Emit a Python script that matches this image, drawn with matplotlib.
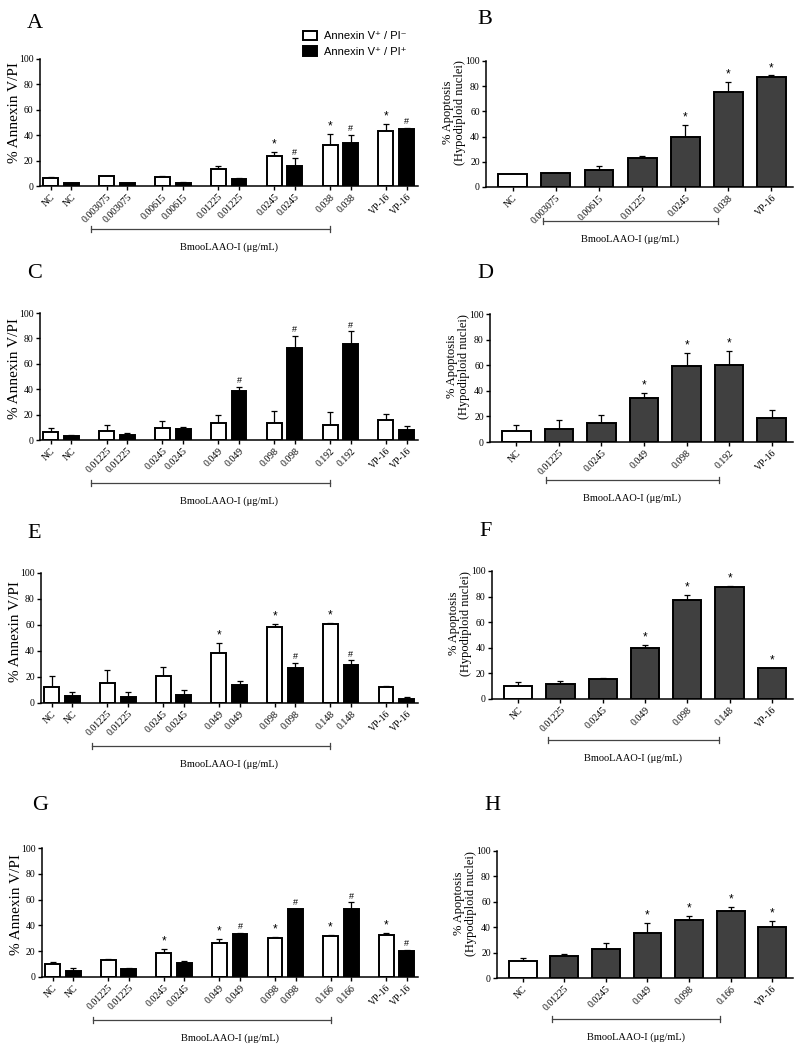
import numpy as np
import matplotlib
matplotlib.use("Agg")
import matplotlib.pyplot as plt
import matplotlib.transforms as mtransforms
from matplotlib.patches import Patch

SERIF = "Liberation Serif"
SANS = ["Liberation Sans", "DejaVu Sans"]

# ---------------- data ----------------
# Panel A
A_groups = ["NC", "0.003075", "0.00615", "0.01225", "0.0245", "0.038", "VP-16"]
A_white = [6, 7.5, 7, 13, 23.5, 32, 43.5]
A_white_err = [0.8, 0.5, 0.8, 3, 3, 9, 5]
A_black = [2, 2, 2.5, 5.5, 16, 34, 45]
A_black_err = [0.3, 0.3, 0.3, 0.8, 6, 6.5, 1]
A_white_sig = ["", "", "", "", "*", "*", "*"]
A_black_sig = ["", "", "", "", "#", "#", "#"]

# Panel B
B_groups = ["NC", "0.003075", "0.00615", "0.01225", "0.0245", "0.038", "VP-16"]
B_vals = [10.5, 11.5, 13.5, 23, 40, 75.5, 87.5]
B_err = [0, 0, 3, 2, 9.5, 8, 1]
B_sig = ["", "", "", "", "*", "*", "*"]

# Panel C
C_groups = ["NC", "0.01225", "0.0245", "0.049", "0.098", "0.192", "VP-16"]
C_white = [6, 7, 9.7, 13, 13, 12, 15.5]
C_white_err = [3.7, 4.5, 5.5, 7, 9.5, 10, 5]
C_black = [3.4, 4, 9, 38.5, 72.5, 75.5, 8]
C_black_err = [0.3, 1.5, 1.5, 3.5, 9.7, 10.3, 3]
C_white_sig = ["", "", "", "", "", "", ""]
C_black_sig = ["", "", "", "#", "#", "#", ""]

# Panel D
D_groups = ["NC", "0.01225", "0.0245", "0.049", "0.098", "0.192", "VP-16"]
D_vals = [8.5, 10.5, 15, 34.5, 59, 60, 18.5]
D_err = [5, 6.3, 6.2, 3.7, 10.5, 11, 6.3]
D_sig = ["", "", "", "*", "*", "*", ""]

# Panel E
E_groups = ["NC", "0.01225", "0.0245", "0.049", "0.098", "0.148", "VP-16"]
E_white = [12, 15.5, 20.5, 38.5, 58.5, 61, 12]
E_white_err = [8.5, 10, 7.5, 7.5, 2.5, 0.5, 1]
E_black = [5.5, 5, 6.5, 14, 27, 29, 3]
E_black_err = [2.7, 3.5, 3.5, 3, 4, 4, 1.6]
E_white_sig = ["", "", "", "*", "*", "*", ""]
E_black_sig = ["", "", "", "", "#", "#", ""]

# Panel F
F_groups = ["NC", "0.01225", "0.0245", "0.049", "0.098", "0.148", "VP-16"]
F_vals = [10.5, 11.5, 16, 39.5, 77.5, 87.5, 24]
F_err = [2.5, 2.3, 0.7, 2.5, 3.5, 0.5, 0.5]
F_sig = ["", "", "", "*", "*", "*", "*"]

# Panel G
G_groups = ["NC", "0.01225", "0.0245", "0.049", "0.098", "0.166", "VP-16"]
G_white = [10, 13, 18.5, 26, 30.5, 31.5, 32.5]
G_white_err = [2, 1.3, 3, 3.3, 0.8, 1.2, 1.8]
G_black = [4.8, 6, 11, 33, 52.5, 52.5, 20.5]
G_black_err = [2, 0.6, 1.1, 1.3, 0.6, 5.5, 0.5]
G_white_sig = ["", "", "*", "*", "*", "*", "*"]
G_black_sig = ["", "", "", "#", "#", "#", "#"]

# Panel H
H_groups = ["NC", "0.01225", "0.0245", "0.049", "0.098", "0.166", "VP-16"]
H_vals = [13, 17, 22.5, 35.5, 45.5, 52.5, 40.5]
H_err = [2.7, 1.8, 5.3, 8, 3, 3.5, 4.5]
H_sig = ["", "", "", "*", "*", "*", "*"]

legend_labels = ["Annexin V\u207a / PI\u207b", "Annexin V\u207a / PI\u207a"]
xlabel_text = "BmooLAAO-I (\u03bcg/mL)"
ylabel_left = "% Annexin V/PI"
ylabel_right = "% Apoptosis\n(Hypodiploid nuclei)"
yticks = [0, 20, 40, 60, 80, 100]

# ---------------- figure ----------------
W, H = 800, 1050
fig = plt.figure(figsize=(W / 100, H / 100), dpi=100)


def add_axes(l, r, t, b):
    return fig.add_axes([l / W, 1 - b / H, (r - l) / W, (b - t) / H])


def style(ax, h_px):
    for s in ["top", "right"]:
        ax.spines[s].set_visible(False)
    for s in ["left", "bottom"]:
        ax.spines[s].set_linewidth(1.1)
    ax.set_ylim(0, 100)
    ax.set_yticks(yticks)
    ax.tick_params(axis="both", direction="out", length=3, width=1, pad=1.5)
    for lab in ax.get_yticklabels():
        lab.set_fontfamily(SERIF)
        lab.set_fontsize(7)


def add_sig(ax, xs, vals, errs, marks):
    for x, v, e, m in zip(xs, vals, errs, marks):
        if m:
            fs = 8.5 if m == "*" else 6.5
            ax.text(x, v + e + 1.2, m, ha="center", va="bottom", fontsize=fs,
                    family=SANS, clip_on=False)


def bracket(ax, x1, x2, xc, drop_px, lab_px, h_px):
    tr = mtransforms.blended_transform_factory(ax.transData, ax.transAxes)
    y = -drop_px / h_px
    tk = 3.0 / h_px
    ax.plot([x1, x2], [y, y], color="#444444", lw=0.9, transform=tr, clip_on=False)
    ax.plot([x1, x1], [y - tk, y + tk], color="#444444", lw=0.9, transform=tr, clip_on=False)
    ax.plot([x2, x2], [y - tk, y + tk], color="#444444", lw=0.9, transform=tr, clip_on=False)
    ax.text(xc, -lab_px / h_px, xlabel_text, transform=tr, ha="center", va="center",
            fontsize=7.5, family=SERIF)


def left_panel(box, groups, white, werr, black, berr, wsig, bsig, letter, letter_xy, ylab_y):
    l, r, t, b = box
    h_px = b - t
    ax = add_axes(l, r, t, b)
    n = len(groups)
    gpos = np.arange(n) * 2.7
    xw = gpos
    xb = gpos + 1
    wdt = 0.72
    ax.bar(xw, white, width=wdt, color="white", edgecolor="black", linewidth=1.4, zorder=2)
    ax.bar(xb, black, width=wdt, color="black", edgecolor="black", linewidth=1.4, zorder=2)
    ax.errorbar(xw, white, yerr=[np.zeros(n), werr], fmt="none", ecolor="black",
                elinewidth=0.9, capsize=2.2, capthick=0.9, zorder=1)
    ax.errorbar(xb, black, yerr=[np.zeros(n), berr], fmt="none", ecolor="black",
                elinewidth=0.9, capsize=2.2, capthick=0.9, zorder=1)
    add_sig(ax, xw, white, werr, wsig)
    add_sig(ax, xb, black, berr, bsig)
    ax.set_xlim(-0.52, 17.75)
    style(ax, h_px)
    xt = np.ravel(np.column_stack([xw, xb]))
    ax.set_xticks(xt)
    labs = [g for g in groups for _ in range(2)]
    ax.set_xticklabels(labs, rotation=45, ha="right", rotation_mode="anchor",
                       fontsize=7, family=SERIF)
    ax.set_ylabel(ylabel_left, fontsize=11, family=SERIF)
    ax.yaxis.set_label_coords(-19 / (r - l), ylab_y)
    bracket(ax, 1.95, 13.5, (ax.get_xlim()[0] + ax.get_xlim()[1]) / 2, 43, 61, h_px)
    fig.text(letter_xy[0] / W, 1 - letter_xy[1] / H, letter, fontsize=16, family=SERIF,
             ha="left", va="center")
    return ax


def right_panel(box, groups, vals, errs, sig, letter, letter_xy, drop):
    l, r, t, b = box
    h_px = b - t
    ax = add_axes(l, r, t, b)
    n = len(groups)
    x = np.arange(n)
    colors = ["white"] + ["#404040"] * (n - 1)
    ax.bar(x, vals, width=0.67, color=colors, edgecolor="black", linewidth=1.4, zorder=2)
    ax.errorbar(x, vals, yerr=[np.zeros(n), errs], fmt="none", ecolor="black",
                elinewidth=0.9, capsize=2.5, capthick=0.9, zorder=1)
    add_sig(ax, x, vals, errs, sig)
    ax.set_xlim(-0.62, 6.5)
    style(ax, h_px)
    ax.set_xticks(x)
    ax.set_xticklabels(groups, rotation=45, ha="right", rotation_mode="anchor",
                       fontsize=7, family=SERIF)
    ax.set_ylabel(ylabel_right, fontsize=9, family=SERIF, linespacing=1.0)
    ax.yaxis.set_label_coords(-20 / (r - l), 0.59)
    bracket(ax, 0.7, 4.75, 2.72, drop, drop + 18, h_px)
    fig.text(letter_xy[0] / W, 1 - letter_xy[1] / H, letter, fontsize=16, family=SERIF,
             ha="left", va="center")
    return ax


axA = left_panel((40, 418, 59, 186), A_groups, A_white, A_white_err, A_black, A_black_err,
                 A_white_sig, A_black_sig, "A", (27, 24), 0.58)
right_panel((486, 793, 61, 187), B_groups, B_vals, B_err, B_sig, "B", (477, 20), 34)

left_panel((40, 418, 313, 440), C_groups, C_white, C_white_err, C_black, C_black_err,
           C_white_sig, C_black_sig, "C", (27, 273), 0.56)
right_panel((490, 793, 314, 442), D_groups, D_vals, D_err, D_sig, "D", (477, 273), 38)

left_panel((41, 418, 573, 703), E_groups, E_white, E_white_err, E_black, E_black_err,
           E_white_sig, E_black_sig, "E", (27, 533), 0.55)
right_panel((492, 793, 571, 699), F_groups, F_vals, F_err, F_sig, "F", (479, 532), 41)

left_panel((42, 418, 848, 977), G_groups, G_white, G_white_err, G_black, G_black_err,
           G_white_sig, G_black_sig, "G", (32, 805), 0.56)
right_panel((497, 793, 851, 978), H_groups, H_vals, H_err, H_sig, "H", (484, 805), 41)

handles = [Patch(facecolor="white", edgecolor="black", linewidth=1.4),
           Patch(facecolor="black", edgecolor="black", linewidth=1.4)]
fig.legend(handles, legend_labels, loc="upper left",
           bbox_to_anchor=(303 / W, 1 - 31 / H), frameon=False,
           prop={"family": SANS, "size": 8}, handlelength=1.3, handleheight=0.9,
           handletextpad=0.6, labelspacing=0.45, borderaxespad=0, borderpad=0)

fig.savefig("out.png", dpi=100, facecolor="white")
